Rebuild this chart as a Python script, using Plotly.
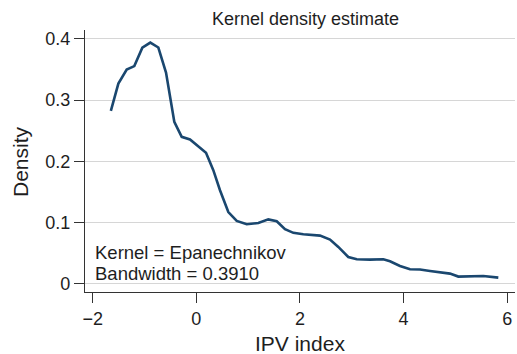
import plotly.graph_objects as go

ipv_index = [-1.65, -1.505, -1.344, -1.197, -1.042, -0.888, -0.733, -0.585, -0.425, -0.282,
             -0.122, 0.039, 0.187, 0.328, 0.457, 0.618, 0.78, 0.973, 1.197, 1.39,
             1.552, 1.712, 1.873, 2.066, 2.388, 2.581, 2.741, 2.934, 3.097, 3.353,
             3.61, 3.739, 3.932, 4.125, 4.318, 4.511, 4.768, 4.897, 5.058, 5.284,
             5.54, 5.83]
density = [0.2825, 0.327, 0.350, 0.3556, 0.3856, 0.394, 0.386, 0.345, 0.2645, 0.240,
           0.2357, 0.2236, 0.214, 0.1854, 0.1527, 0.117, 0.1025, 0.097, 0.099, 0.105,
           0.102, 0.089, 0.083, 0.0807, 0.0785, 0.072, 0.060, 0.0435, 0.0398, 0.0393,
           0.0398, 0.0365, 0.0288, 0.0234, 0.023, 0.0206, 0.0185, 0.0164, 0.0115, 0.0124,
           0.0124, 0.0098]

x_ticks = [-2, 0, 2, 4, 6]
y_ticks = [0, 0.1, 0.2, 0.3, 0.4]
y_tick_labels = ["0", "0.1", "0.2", "0.3", "0.4"]

title_text = "Kernel density estimate"
x_title = "IPV index"
y_title = "Density"
note_lines = ["Kernel = Epanechnikov", "Bandwidth = 0.3910"]

FONT = "Liberation Sans, Arial, Helvetica, sans-serif"
TXT = "#1e1e1e"
W, H = 517, 354
L, R, T, B = 85, 2, 30, 62
PW, PH = W - L - R, H - T - B

fig = go.Figure()
fig.add_trace(go.Scatter(x=ipv_index, y=density, mode="lines",
                         line=dict(color="#1a476f", width=2.6), showlegend=False,
                         hoverinfo="skip"))

fig.update_layout(
    width=W, height=H,
    margin=dict(l=L, r=R, t=T, b=B, autoexpand=False),
    paper_bgcolor="white", plot_bgcolor="white",
    font=dict(family=FONT, color=TXT, size=18),
    xaxis=dict(range=[-2.149, 6.152], tickvals=x_ticks, ticks="outside", ticklen=10,
               tickwidth=1.2, tickcolor="#333", showline=True, linecolor="#333", linewidth=1.4,
               showgrid=False, zeroline=False, automargin=False, ticklabeloverflow="allow",
               tickfont=dict(size=18, color=TXT)),
    yaxis=dict(range=[-0.0137, 0.4146], tickvals=y_ticks, ticktext=y_tick_labels,
               ticks="outside", ticklen=10, tickwidth=1.2, tickcolor="#333",
               showline=True, linecolor="#333", linewidth=1.4, automargin=False,
               showgrid=True, gridcolor="#d6d6d6", gridwidth=1.2, zeroline=False,
               ticklabeloverflow="allow", tickfont=dict(size=18, color=TXT)),
)

fig.add_annotation(text=title_text, xref="paper", yref="paper",
                   x=(305 - L) / PW, y=(H - B - 19) / PH, xanchor="center", yanchor="middle",
                   showarrow=False, font=dict(size=18, color=TXT))
fig.add_annotation(text=x_title, xref="paper", yref="paper",
                   x=(300 - L) / PW, y=(H - B - 343) / PH, xanchor="center", yanchor="middle",
                   showarrow=False, font=dict(size=21, color=TXT))
fig.add_annotation(text=y_title, xref="paper", yref="paper", textangle=-90,
                   x=(20 - L) / PW, y=(H - B - 162) / PH, xanchor="center", yanchor="middle",
                   showarrow=False, font=dict(size=21, color=TXT))

for i, line in enumerate(note_lines):
    fig.add_annotation(text=line, xref="paper", yref="paper",
                       x=(93 - L) / PW, y=(H - B - (252 + 21 * i)) / PH,
                       xanchor="left", yanchor="middle", showarrow=False,
                       font=dict(size=18.5, color=TXT))

fig.write_html("out.html", config={"displayModeBar": False},
               post_script="document.body.style.margin='0';document.body.style.overflow='hidden';")
